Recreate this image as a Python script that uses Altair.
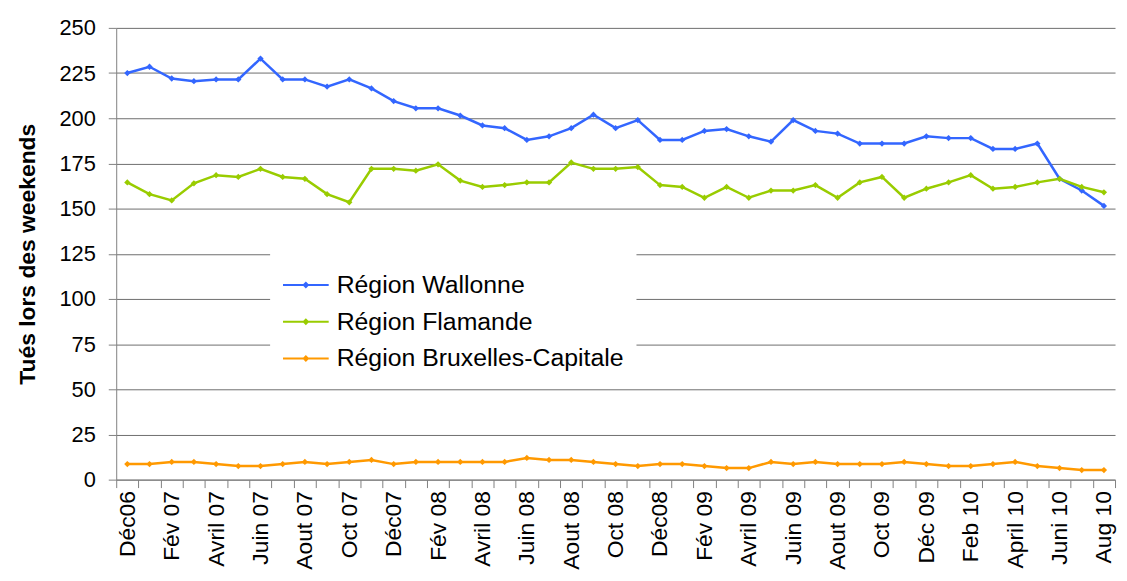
import json
import altair as alt
import pandas as pd

FONT = "Liberation Sans"

mois = ["Déc06", "Jan 07", "Fév 07", "Mars 07", "Avril 07", "Mai 07", "Juin 07", "Juil 07",
        "Aout 07", "Sept 07", "Oct 07", "Nov 07", "Déc07", "Jan 08", "Fév 08", "Mars 08",
        "Avril 08", "Mai 08", "Juin 08", "Juil 08", "Aout 08", "Sept 08", "Oct 08", "Nov 08",
        "Déc08", "Jan 09", "Fév 09", "Mars 09", "Avril 09", "Mai 09", "Juin 09", "Juil 09",
        "Aout 09", "Sept 09", "Oct 09", "Nov 09", "Déc 09", "Jan 10", "Feb 10", "March 10",
        "April 10", "Mai 10", "Juni 10", "Juli 10", "Aug 10"]

wallonne = [225, 228.5, 222, 220.5, 221.5, 221.5, 233, 221.5, 221.5, 217.5, 221.5, 216.5,
            209.5, 205.5, 205.5, 201.5, 196, 194.5, 188, 190, 194.5, 202, 194.5, 199,
            188, 188, 193, 194, 190, 187, 199, 193, 191.5, 186, 186, 186, 190, 189, 189,
            183, 183, 186, 166.5, 160, 151.5]
flamande = [164.5, 158, 154.5, 164, 168.5, 167.5, 172, 167.5, 166.5, 158, 153.5, 172,
            172, 171, 174.5, 165.5, 162, 163, 164.5, 164.5, 175.5, 172, 172, 173,
            163, 162, 156, 162, 156, 160, 160, 163, 156, 164.5, 167.5, 156, 161, 164.5,
            168.5, 161, 162, 164.5, 166.5, 162, 159]
bruxelles = [8.6, 8.6, 9.8, 9.8, 8.6, 7.5, 7.5, 8.6, 9.8, 8.6, 9.8, 10.9, 8.6, 9.8, 9.8,
             9.8, 9.8, 9.8, 12, 10.9, 10.9, 9.8, 8.6, 7.5, 8.6, 8.6, 7.5, 6.4, 6.4, 9.8,
             8.6, 9.8, 8.6, 8.6, 8.6, 9.8, 8.6, 7.5, 7.5, 8.6, 9.8, 7.5, 6.4, 5.3, 5.3]

series = ["Région Wallonne", "Région Flamande", "Région Bruxelles-Capitale"]
colors = ["#3366FF", "#99CC00", "#FF9900"]
y_ticks = [0, 25, 50, 75, 100, 125, 150, 175, 200, 225, 250]

rows = []
for name, vals in zip(series, [wallonne, flamande, bruxelles]):
    for i, (m, v) in enumerate(zip(mois, vals)):
        rows.append({"mois": m, "idx": i, "region": name, "val": v})
df = pd.DataFrame(rows)

hidden = mois[1::2]
label_expr = ("indexof(" + json.dumps(hidden, ensure_ascii=False)
              + ", datum.value) >= 0 ? '' : datum.value")

legend_symbol = "M-1,0L1,0M-0.09,0L0,-0.09L0.09,0L0,0.09Z"

chart = alt.Chart(df).mark_line(
    strokeWidth=2.5,
    point=alt.OverlayMarkDef(shape="diamond", filled=True, size=40),
).encode(
    x=alt.X("mois:N", sort=mois,
            scale=alt.Scale(type="band", domain=mois, paddingInner=0, paddingOuter=0),
            axis=alt.Axis(title=None, labelAngle=-90, labelAlign="right", labelBaseline="middle",
                          labelExpr=label_expr, tickBand="extent", tickSize=8,
                          tickColor="#808080", domainColor="#808080", labelFontSize=23,
                          labelColor="black", labelPadding=3, grid=False, labelFont=FONT,
                          labelOverlap=False)),
    y=alt.Y("val:Q", scale=alt.Scale(domain=[0, 250], nice=False),
            axis=alt.Axis(values=y_ticks, title="Tués lors des weekends", titleFontSize=23,
                          titleFontWeight="bold", titleColor="black", titleFont=FONT,
                          titlePadding=20, labelFontSize=22, labelColor="black", labelFont=FONT,
                          tickSize=8, labelPadding=13, gridColor="#6e6e6e", gridWidth=1,
                          domainColor="#808080", tickColor="#808080")),
    color=alt.Color("region:N", scale=alt.Scale(domain=series, range=colors),
                    legend=alt.Legend(title=None, orient="none", legendX=155, legendY=223,
                                      fillColor="white", labelFontSize=25, labelFont=FONT,
                                      labelColor="black", symbolType=legend_symbol,
                                      symbolSize=2116, symbolStrokeWidth=2, labelOffset=7,
                                      padding=12, rowPadding=0, labelLimit=400)),
    order=alt.Order("idx:Q"),
).properties(
    width=1006, height=455,
    autosize=alt.AutoSizeParams(type="none"),
    padding={"left": 109, "top": 18, "right": 4, "bottom": 92},
).configure(font=FONT).configure_view(stroke=None)

chart.save("out.html", embed_options={"renderer": "svg", "actions": False})
